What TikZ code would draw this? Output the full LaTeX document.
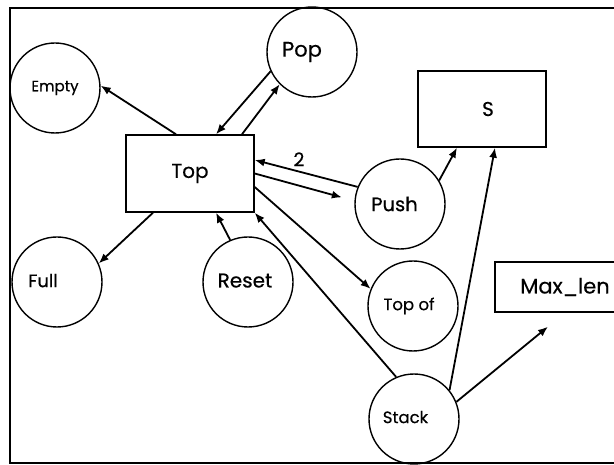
\documentclass[tikz,border=0pt]{standalone}
\usepackage{fontspec}
\setmainfont{Poppins}[FakeBold=0.5]
\usetikzlibrary{arrows.meta}
\tikzset{
  proc/.style={circle, draw, line width=1.4pt, minimum size=90pt, inner sep=0pt},
  store/.style={rectangle, draw, line width=1.4pt, inner sep=0pt},
  flow/.style={line width=1.8pt, -{Latex[length=10pt,width=8pt]}},
}
\newcommand{\fs}[1]{\fontsize{#1}{#1}\selectfont}
% shift a label inside its node: left by #1/2, up by #2
\newcommand{\nudge}[3]{\raisebox{#2}{#3\hspace*{#1}}}
\begin{document}
\begin{tikzpicture}[x=1pt,y=-1pt]
  \useasboundingbox (0,0) rectangle (614,465);
  \clip (0,0) rectangle (614,465);
  % outer frame (right side runs off the page)
  \draw[line width=1.8pt] (10,8) rectangle (650,463);

  % data stores
  \node[store, minimum width=128pt, minimum height=77pt] (top) at (190,173.5) {\fs{20}Top};
  \node[store, minimum width=128pt, minimum height=76pt] (s) at (482,109) {\hspace*{12pt}\fs{20}S};
  \node[store, minimum width=140pt, minimum height=50pt] (maxlen) at (565,287) {\fs{21}Max\_len};

  % processes
  \node[proc] (empty) at (55,88) {\fs{15}Empty};
  \node[proc] (pop) at (312,52) {\fs{21}\nudge{20pt}{0pt}{Pop}};
  \node[proc] (push) at (400,204) {\fs{19.5}\nudge{11pt}{0pt}{Push}};
  \node[proc] (full) at (57,282) {\fs{18}\nudge{28pt}{3pt}{Full}};
  \node[proc] (reset) at (248,282) {\fs{20}\nudge{6pt}{3pt}{Reset}};
  \node[proc] (topof) at (413,306) {\fs{16.5}\nudge{8pt}{4pt}{Top of}};
  \node[proc] (stack) at (414,419) {\fs{16.5}\nudge{17pt}{4pt}{Stack}};

  % flows
  \draw[flow] ([xshift=-14pt]top.north) -- (empty.3);
  \draw[flow] (pop.205) -- ([xshift=26pt]top.north);
  \draw[flow] ([xshift=52pt]top.north) -- (pop.225);
  \draw[flow] (push.158) -- node[pos=0.57, above=1pt] {\fs{19}2} ([yshift=13.5pt]top.east);
  \draw[flow, shorten >=13pt] (top.east) -- (push.176);
  \draw[flow] (push.31) -- ([xshift=-25pt]s.south);
  \draw[flow] (stack.39) -- ([xshift=13pt]s.south);
  \draw[flow] (stack.22) -- ([xshift=-17pt,yshift=-14pt]maxlen.south);
  \draw[flow] ([yshift=-13.5pt]top.east) -- (topof.158);
  \draw[flow] (stack.113) -- (top.south east);
  \draw[flow] (reset.113) -- ([xshift=26pt]top.south);
  \draw[flow] ([xshift=-37pt]top.south) -- (full.24);
\end{tikzpicture}
\end{document}
